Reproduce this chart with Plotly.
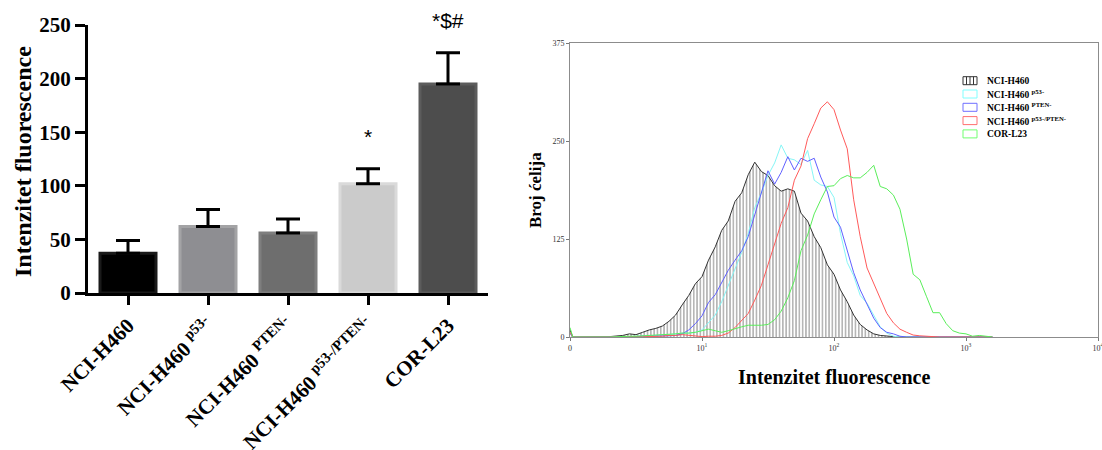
import plotly.graph_objects as go

# ---------------- Left panel: mean fluorescence intensity ----------------
cell_lines = ["NCI-H460", "NCI-H460 <sup>p53-</sup>", "NCI-H460 <sup>PTEN-</sup>",
              "NCI-H460 <sup>p53-/PTEN-</sup>", "COR-L23"]
mean_fluor = [37, 62, 56, 102, 195]
sem_fluor = [12, 16, 13, 14, 29]
significance = ["", "", "", "*", "*$#"]

# ---------------- Right panel: flow cytometry histograms ----------------
channel = [1.0, 1.05, 2.0, 2.24, 2.51, 2.82, 3.16, 3.55, 3.98, 4.47, 5.01, 5.62, 6.31, 7.08,
           7.94, 8.91, 10.0, 11.2, 12.6, 14.1, 15.8, 17.8, 20.0, 22.4, 25.1, 28.2, 31.6, 35.5,
           39.8, 44.7, 50.1, 56.2, 63.1, 70.8, 79.4, 89.1, 100, 112, 126, 141, 158, 178, 200,
           224, 251, 282, 316, 355, 398, 447, 501, 562, 631, 708, 794, 891, 1000, 1122, 1259,
           1413, 1585]
count_h460 = [9, 0, 0.5, 1, 2, 4, 3, 6, 9, 11, 14, 20, 28, 41, 53, 68, 77, 98, 115, 136, 148,
              173, 184, 207, 223, 211, 206, 193, 186, 189, 186, 158, 148, 128, 114, 92, 80, 60,
              45, 28, 16, 9, 4, 2, 1, 0.5, 0, 0, 0, 0, 0, 0, 0, 0, 0, 0, 0, 0, 0, 0, 0]
count_p53 = [4, 0, 0, 0, 0, 0.5, 1, 1, 1.5, 2, 3, 3, 4, 5, 5, 6, 9, 18, 28, 45, 66, 88, 108,
             132, 165, 184, 206, 222, 245, 228, 226, 220, 238, 200, 194, 192, 178, 132, 95, 78,
             53, 43, 27, 13, 5, 1, 0, 0, 0, 0, 0, 0, 0, 0, 0, 0, 0, 0, 0, 0, 0]
count_pten = [5, 0, 0, 0, 0, 0, 0.5, 1, 1, 1.5, 1, 1.5, 2, 4, 9, 17, 27, 44, 54, 70, 85, 98,
              110, 128, 155, 182, 212, 195, 210, 230, 213, 228, 224, 228, 204, 185, 153, 140,
              110, 82, 60, 42, 24, 12, 6, 4, 1, 0, 0, 0, 0, 0, 0, 0, 0, 0, 0, 0, 0, 0, 0]
count_p53_pten = [6, 0, 0, 0.3, 0.3, 0.3, 0.3, 0.3, 0.3, 1, 1, 2, 2, 3, 2, 1, 0.5, 1, 1, 2, 5,
                  12, 21, 30, 47, 66, 92, 118, 145, 165, 200, 218, 253, 272, 292, 300, 290, 264,
                  240, 175, 128, 88, 68, 50, 30, 18, 10, 6, 2.5, 1.5, 1, 0, 0, 0, 0, 0, 0, 0, 0,
                  0, 0]
count_corl23 = [12, 0, 0, 0.5, 1, 1, 1, 1.5, 2, 2, 3, 3, 4, 5, 5, 6, 8, 10, 8, 6, 8, 11, 13,
                15, 15, 15, 16, 22, 33, 50, 72, 110, 130, 157, 175, 192, 193, 202, 206, 203,
                203, 210, 219, 192, 189, 181, 163, 125, 80, 73, 52, 31, 31, 17, 8, 5, 4, 1, 2,
                1, 0]
x_tickvals = [1, 10, 100, 1000, 10000]
x_ticktext = ["0", "10<sup>1</sup>", "10<sup>2</sup>", "10<sup>3</sup>", "10<sup>4</sup>"]
y_tickvals = [0, 125, 250, 375]

W, H = 1102, 450
def px(x):
    return x / W
def py(y):
    return 1 - y / H

serif = "Liberation Serif"
bar_fill = ["#000000", "#8e8e92", "#6e6e6e", "#cbcbcb", "#4d4d4d"]
bar_edge = ["#1a1a1a", "#a3a3a5", "#7e7e7e", "#dadada", "#5c5c5c"]

fig = go.Figure()
fig.add_trace(go.Bar(
    x=cell_lines, y=mean_fluor, width=0.7,
    marker=dict(color=bar_fill, line=dict(color=bar_edge, width=3)),
    error_y=dict(type="data", array=sem_fluor, arrayminus=[0] * len(sem_fluor),
                 symmetric=False, thickness=3, width=12, color="black"),
    xaxis="x", yaxis="y", showlegend=False))

hist_series = [count_h460, count_p53, count_pten, count_p53_pten, count_corl23]
hist_colors = ["#333333", "#86f6f6", "#6060ff", "#ff5a5a", "#5aee5a"]
for i, (counts, col) in enumerate(zip(hist_series, hist_colors)):
    kw = {}
    if i == 0:
        kw = dict(fill="tozeroy", fillcolor="rgba(255,255,255,0)",
                  fillpattern=dict(shape="|", fgcolor="#333333", bgcolor="rgba(255,255,255,0)",
                                   size=3.3, solidity=0.36))
    fig.add_trace(go.Scatter(x=channel, y=counts, mode="lines", name=cell_lines[i],
                             line=dict(color=col, width=1), xaxis="x2", yaxis="y2",
                             showlegend=False, **kw))

bold_tick = dict(family=serif, size=21, color="black", weight="bold")
small_tick = dict(family=serif, size=8, color="#333333")

Y_DOM = [py(293), py(25)]
Y_RANGE = [0, 250]

fig.update_layout(
    width=W, height=H, margin=dict(l=0, r=0, t=0, b=0, autoexpand=False),
    paper_bgcolor="white", plot_bgcolor="white", showlegend=False, bargap=0.3,
    xaxis=dict(domain=[px(88), px(488)], range=[-0.5, 4.5], anchor="y", automargin=False,
               showline=True, linecolor="black", linewidth=3, ticks="outside",
               ticklen=9, tickwidth=3, tickcolor="black", tickangle=-45,
               tickfont=bold_tick, showgrid=False, zeroline=False),
    yaxis=dict(domain=Y_DOM, range=Y_RANGE, anchor="x", automargin=False,
               tickvals=[0, 50, 100, 150, 200, 250],
               showline=True, linecolor="black", linewidth=3, ticks="outside",
               ticklen=10, tickwidth=3, tickcolor="black",
               tickfont=bold_tick, showgrid=False, zeroline=False),
    xaxis2=dict(domain=[px(570), px(1098)], type="log", range=[0, 4], anchor="y2",
                automargin=False, tickvals=x_tickvals, ticktext=x_ticktext,
                ticklabeloverflow="allow",
                showline=True, mirror=True, linecolor="#8c8c8c", linewidth=1,
                ticks="outside", ticklen=3, tickcolor="#777777",
                tickfont=small_tick, showgrid=False, zeroline=False),
    yaxis2=dict(domain=[py(337), py(43)], range=[0, 375], anchor="x2", automargin=False,
                tickvals=y_tickvals,
                showline=True, mirror=True, linecolor="#8c8c8c", linewidth=1,
                ticks="outside", ticklen=3, tickcolor="#777777",
                tickfont=small_tick, showgrid=False, zeroline=False),
)

annotations = []
for name, m, s, sig in zip(cell_lines, mean_fluor, sem_fluor, significance):
    if sig:
        val = m + s + 30
        yp = Y_DOM[0] + (val - Y_RANGE[0]) / (Y_RANGE[1] - Y_RANGE[0]) * (Y_DOM[1] - Y_DOM[0])
        annotations.append(dict(x=name, y=yp, xref="x", yref="paper", text=sig,
                                xanchor="center", yanchor="middle",
                                showarrow=False, font=dict(family="Liberation Sans", size=21,
                                                           color="black")))
annotations.append(dict(x=px(23), y=py(162), xref="paper", yref="paper",
                        xanchor="center", yanchor="middle",
                        text="Intenzitet fluorescence", textangle=-90, showarrow=False,
                        font=dict(family=serif, size=24, color="black", weight="bold")))
annotations.append(dict(x=px(535), y=py(190), xref="paper", yref="paper",
                        xanchor="center", yanchor="middle",
                        text="Broj ćelija", textangle=-90, showarrow=False,
                        font=dict(family=serif, size=17, color="black", weight="bold")))
annotations.append(dict(x=px(834), y=py(377), xref="paper", yref="paper",
                        xanchor="center", yanchor="middle",
                        text="Intenzitet fluorescence", showarrow=False,
                        font=dict(family=serif, size=20, color="black", weight="bold")))

# Manual legend
shapes = []
legend_edge = ["#333333", "#80ffff", "#7070ff", "#ff7070", "#70ff70"]
for i, name in enumerate(cell_lines):
    yc = 80.7 + 13.3 * i
    shapes.append(dict(type="rect", xref="paper", yref="paper",
                       x0=px(963), x1=px(977), y0=py(yc + 4), y1=py(yc - 4),
                       line=dict(color=legend_edge[i], width=1), fillcolor="white"))
    if i == 0:
        for xv in (966.5, 970, 973.5):
            shapes.append(dict(type="line", xref="paper", yref="paper",
                               x0=px(xv), x1=px(xv), y0=py(yc + 4), y1=py(yc - 4),
                               line=dict(color="#333333", width=1)))
    annotations.append(dict(x=px(985), y=py(yc), xref="paper", yref="paper",
                            xanchor="left", yanchor="middle", text=name, showarrow=False,
                            font=dict(family=serif, size=9.5, color="black", weight="bold")))

fig.update_layout(annotations=annotations, shapes=shapes)
fig.write_html("out.html", config={"displayModeBar": False},
               post_script="document.body.style.margin='0';document.body.style.padding='0';")
